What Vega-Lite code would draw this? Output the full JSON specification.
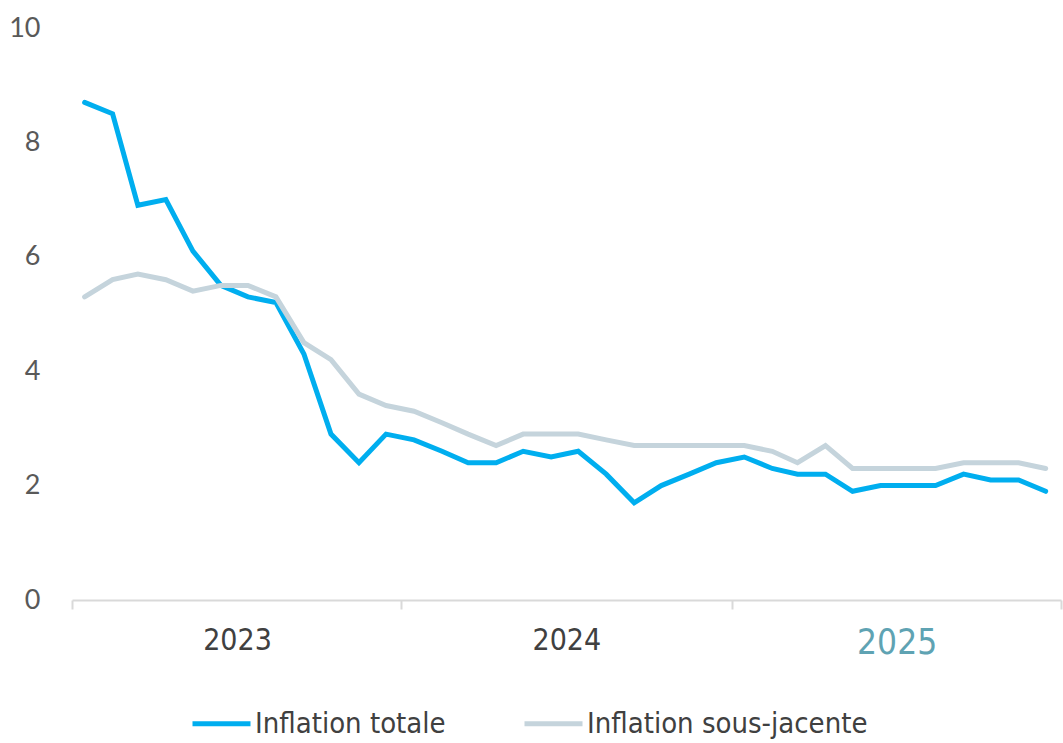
{
  "$schema": "https://vega.github.io/schema/vega-lite/v6.json",
  "width": 989,
  "height": 572,
  "autosize": "none",
  "padding": {"left": 72, "top": 28, "right": 2, "bottom": 143},
  "background": "white",
  "config": {"view": {"stroke": null}},
  "datasets": {
    "infl": [
      {"mois": "2023-01-15", "serie": "Inflation totale", "valeur": 8.7},
      {"mois": "2023-02-15", "serie": "Inflation totale", "valeur": 8.5},
      {"mois": "2023-03-15", "serie": "Inflation totale", "valeur": 6.9},
      {"mois": "2023-04-15", "serie": "Inflation totale", "valeur": 7.0},
      {"mois": "2023-05-15", "serie": "Inflation totale", "valeur": 6.1},
      {"mois": "2023-06-15", "serie": "Inflation totale", "valeur": 5.5},
      {"mois": "2023-07-15", "serie": "Inflation totale", "valeur": 5.3},
      {"mois": "2023-08-15", "serie": "Inflation totale", "valeur": 5.2},
      {"mois": "2023-09-15", "serie": "Inflation totale", "valeur": 4.3},
      {"mois": "2023-10-15", "serie": "Inflation totale", "valeur": 2.9},
      {"mois": "2023-11-15", "serie": "Inflation totale", "valeur": 2.4},
      {"mois": "2023-12-15", "serie": "Inflation totale", "valeur": 2.9},
      {"mois": "2024-01-15", "serie": "Inflation totale", "valeur": 2.8},
      {"mois": "2024-02-15", "serie": "Inflation totale", "valeur": 2.6},
      {"mois": "2024-03-15", "serie": "Inflation totale", "valeur": 2.4},
      {"mois": "2024-04-15", "serie": "Inflation totale", "valeur": 2.4},
      {"mois": "2024-05-15", "serie": "Inflation totale", "valeur": 2.6},
      {"mois": "2024-06-15", "serie": "Inflation totale", "valeur": 2.5},
      {"mois": "2024-07-15", "serie": "Inflation totale", "valeur": 2.6},
      {"mois": "2024-08-15", "serie": "Inflation totale", "valeur": 2.2},
      {"mois": "2024-09-15", "serie": "Inflation totale", "valeur": 1.7},
      {"mois": "2024-10-15", "serie": "Inflation totale", "valeur": 2.0},
      {"mois": "2024-11-15", "serie": "Inflation totale", "valeur": 2.2},
      {"mois": "2024-12-15", "serie": "Inflation totale", "valeur": 2.4},
      {"mois": "2025-01-15", "serie": "Inflation totale", "valeur": 2.5},
      {"mois": "2025-02-15", "serie": "Inflation totale", "valeur": 2.3},
      {"mois": "2025-03-15", "serie": "Inflation totale", "valeur": 2.2},
      {"mois": "2025-04-15", "serie": "Inflation totale", "valeur": 2.2},
      {"mois": "2025-05-15", "serie": "Inflation totale", "valeur": 1.9},
      {"mois": "2025-06-15", "serie": "Inflation totale", "valeur": 2.0},
      {"mois": "2025-07-15", "serie": "Inflation totale", "valeur": 2.0},
      {"mois": "2025-08-15", "serie": "Inflation totale", "valeur": 2.0},
      {"mois": "2025-09-15", "serie": "Inflation totale", "valeur": 2.2},
      {"mois": "2025-10-15", "serie": "Inflation totale", "valeur": 2.1},
      {"mois": "2025-11-15", "serie": "Inflation totale", "valeur": 2.1},
      {"mois": "2025-12-15", "serie": "Inflation totale", "valeur": 1.9},
      {"mois": "2023-01-15", "serie": "Inflation sous-jacente", "valeur": 5.3},
      {"mois": "2023-02-15", "serie": "Inflation sous-jacente", "valeur": 5.6},
      {"mois": "2023-03-15", "serie": "Inflation sous-jacente", "valeur": 5.7},
      {"mois": "2023-04-15", "serie": "Inflation sous-jacente", "valeur": 5.6},
      {"mois": "2023-05-15", "serie": "Inflation sous-jacente", "valeur": 5.4},
      {"mois": "2023-06-15", "serie": "Inflation sous-jacente", "valeur": 5.5},
      {"mois": "2023-07-15", "serie": "Inflation sous-jacente", "valeur": 5.5},
      {"mois": "2023-08-15", "serie": "Inflation sous-jacente", "valeur": 5.3},
      {"mois": "2023-09-15", "serie": "Inflation sous-jacente", "valeur": 4.5},
      {"mois": "2023-10-15", "serie": "Inflation sous-jacente", "valeur": 4.2},
      {"mois": "2023-11-15", "serie": "Inflation sous-jacente", "valeur": 3.6},
      {"mois": "2023-12-15", "serie": "Inflation sous-jacente", "valeur": 3.4},
      {"mois": "2024-01-15", "serie": "Inflation sous-jacente", "valeur": 3.3},
      {"mois": "2024-02-15", "serie": "Inflation sous-jacente", "valeur": 3.1},
      {"mois": "2024-03-15", "serie": "Inflation sous-jacente", "valeur": 2.9},
      {"mois": "2024-04-15", "serie": "Inflation sous-jacente", "valeur": 2.7},
      {"mois": "2024-05-15", "serie": "Inflation sous-jacente", "valeur": 2.9},
      {"mois": "2024-06-15", "serie": "Inflation sous-jacente", "valeur": 2.9},
      {"mois": "2024-07-15", "serie": "Inflation sous-jacente", "valeur": 2.9},
      {"mois": "2024-08-15", "serie": "Inflation sous-jacente", "valeur": 2.8},
      {"mois": "2024-09-15", "serie": "Inflation sous-jacente", "valeur": 2.7},
      {"mois": "2024-10-15", "serie": "Inflation sous-jacente", "valeur": 2.7},
      {"mois": "2024-11-15", "serie": "Inflation sous-jacente", "valeur": 2.7},
      {"mois": "2024-12-15", "serie": "Inflation sous-jacente", "valeur": 2.7},
      {"mois": "2025-01-15", "serie": "Inflation sous-jacente", "valeur": 2.7},
      {"mois": "2025-02-15", "serie": "Inflation sous-jacente", "valeur": 2.6},
      {"mois": "2025-03-15", "serie": "Inflation sous-jacente", "valeur": 2.4},
      {"mois": "2025-04-15", "serie": "Inflation sous-jacente", "valeur": 2.7},
      {"mois": "2025-05-15", "serie": "Inflation sous-jacente", "valeur": 2.3},
      {"mois": "2025-06-15", "serie": "Inflation sous-jacente", "valeur": 2.3},
      {"mois": "2025-07-15", "serie": "Inflation sous-jacente", "valeur": 2.3},
      {"mois": "2025-08-15", "serie": "Inflation sous-jacente", "valeur": 2.3},
      {"mois": "2025-09-15", "serie": "Inflation sous-jacente", "valeur": 2.4},
      {"mois": "2025-10-15", "serie": "Inflation sous-jacente", "valeur": 2.4},
      {"mois": "2025-11-15", "serie": "Inflation sous-jacente", "valeur": 2.4},
      {"mois": "2025-12-15", "serie": "Inflation sous-jacente", "valeur": 2.3}
    ]
  },
  "data": {"name": "infl"},
  "encoding": {
    "x": {
      "field": "mois",
      "type": "temporal",
      "scale": {
        "type": "utc",
        "domain": [
          {"year": 2023, "month": 1, "date": 1, "utc": true},
          {"year": 2026, "month": 1, "date": 1, "utc": true}
        ]
      },
      "axis": {
        "title": null,
        "grid": false,
        "values": [
          {"year": 2023, "month": 1, "date": 1, "utc": true},
          {"year": 2024, "month": 1, "date": 1, "utc": true},
          {"year": 2025, "month": 1, "date": 1, "utc": true},
          {"year": 2026, "month": 1, "date": 1, "utc": true}
        ],
        "labelExpr": "utcFormat(datum.value, '%Y') == '2026' ? '' : utcFormat(datum.value, '%Y')",
        "labelOffset": 165,
        "labelFont": "Liberation Sans Narrow, DejaVu Sans Condensed, sans-serif",
        "labelFontSize": {"condition": {"test": "utcFormat(datum.value, '%Y') == '2025'", "value": 35}, "value": 30},
        "labelColor": {"condition": {"test": "utcFormat(datum.value, '%Y') == '2025'", "value": "#5FA3B3"}, "value": "#404040"},
        "labelPadding": 16,
        "labelFlush": false,
        "labelOverlap": false,
        "domainColor": "#D9D9D9",
        "domainWidth": 2,
        "tickColor": "#D9D9D9",
        "tickWidth": 2,
        "tickSize": 9
      }
    },
    "y": {
      "field": "valeur",
      "type": "quantitative",
      "scale": {"domain": [0, 10], "nice": false},
      "axis": {
        "title": null,
        "grid": false,
        "domain": false,
        "ticks": false,
        "tickSize": 0,
        "values": [0, 2, 4, 6, 8, 10],
        "labelPadding": 32,
        "labelFont": "Lato, sans-serif",
        "labelFontSize": 27,
        "labelColor": "#595959"
      }
    },
    "color": {
      "field": "serie",
      "type": "nominal",
      "scale": {
        "domain": ["Inflation totale", "Inflation sous-jacente"],
        "range": ["#00AEEF", "#C5D4DC"]
      },
      "legend": {
        "title": null,
        "orient": "none",
        "legendX": 118,
        "legendY": 664,
        "direction": "horizontal",
        "symbolType": "stroke",
        "symbolSize": 3364,
        "symbolStrokeWidth": 5,
        "labelFont": "Liberation Sans Narrow, DejaVu Sans Condensed, sans-serif",
        "labelFontSize": 29,
        "labelColor": "#404040",
        "labelOffset": 2,
        "columnPadding": 68,
        "labelLimit": 400
      }
    }
  },
  "layer": [
    {
      "transform": [{"filter": "datum.serie == 'Inflation totale'"}],
      "mark": {"type": "line", "strokeWidth": 5, "strokeCap": "round", "strokeJoin": "miter"}
    },
    {
      "transform": [{"filter": "datum.serie == 'Inflation sous-jacente'"}],
      "mark": {"type": "line", "strokeWidth": 5, "strokeCap": "round", "strokeJoin": "miter"}
    }
  ]
}
